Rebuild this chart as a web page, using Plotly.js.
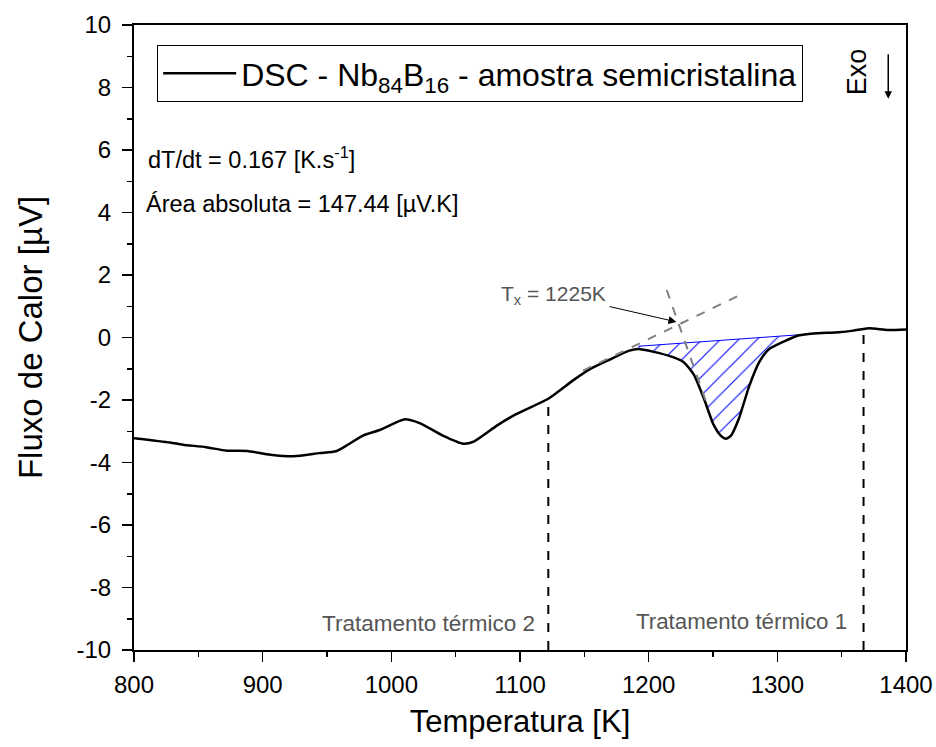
<!DOCTYPE html>
<html>
<head>
<meta charset="utf-8">
<script src="https://cdn.plot.ly/plotly-3.0.1.min.js"></script>
<style>html,body{margin:0;padding:0;background:#fff;}#chart{width:936px;height:747px;}</style>
</head>
<body>
<div id="chart"></div>
<script>
// DSC curve (Temperatura [K], Fluxo de Calor [µV])
const temp = [800, 828, 838, 856, 872, 888, 906, 924, 944, 957, 965, 978, 991, 1010, 1022, 1040, 1056, 1064, 1082, 1097, 1122, 1141, 1154, 1169, 1185, 1192, 1204, 1216, 1227, 1235, 1243, 1250, 1256, 1260, 1264, 1270, 1278, 1286, 1293, 1305, 1317, 1328, 1348, 1359, 1371, 1386, 1400];
const flux = [-3.22, -3.36, -3.43, -3.51, -3.62, -3.63, -3.75, -3.80, -3.70, -3.64, -3.46, -3.14, -2.96, -2.62, -2.74, -3.14, -3.40, -3.33, -2.82, -2.45, -1.96, -1.38, -1.02, -0.72, -0.42, -0.37, -0.46, -0.59, -0.78, -1.18, -1.96, -2.75, -3.14, -3.24, -3.14, -2.61, -1.57, -0.78, -0.39, -0.13, 0.07, 0.13, 0.17, 0.22, 0.30, 0.24, 0.26];

// Integration baseline of the crystallization peak
const baseT = [1328, 1192];
const baseF = [0.12, -0.28];

// Onset tangents
const tanAT = [1149, 1274];
const tanAF = [-1.06, 1.42];
const tanBT = [1214, 1246];
const tanBF = [1.52, -2.22];

// Heat-treatment temperatures (vertical dashed lines)
const treatT = [1122, 1367];
const treatTop = [-1.96, 0.28];
const treatLabels = ["Tratamento térmico 2", "Tratamento térmico 1"];

// Axis ticks
const xTickVals = [800, 900, 1000, 1100, 1200, 1300, 1400];
const xTickText = ["800", "900", "1000", "1100", "1200", "1300", "1400"];
const yTickVals = [-10, -8, -6, -4, -2, 0, 2, 4, 6, 8, 10];
const yTickText = ["-10", "-8", "-6", "-4", "-2", "0", "2", "4", "6", "8", "10"];

const legendName = "DSC - Nb<sub>84</sub>B<sub>16</sub> - amostra semicristalina";

// Build the hatched peak polygon from the curve and baseline
const peakT = [], peakF = [];
for (let i = 0; i < temp.length; i++) {
  if (temp[i] >= baseT[1] && temp[i] <= baseT[0]) { peakT.push(temp[i]); peakF.push(flux[i]); }
}
const polyT = peakT.concat(baseT);
const polyF = peakF.concat(baseF);

const traces = [];
traces.push({
  x: polyT, y: polyF, type: 'scatter', mode: 'lines', fill: 'toself',
  fillcolor: 'rgba(0,0,0,0)',
  fillpattern: {shape: '/', fgcolor: '#0000ff', bgcolor: 'rgba(255,255,255,0)', size: 13, solidity: 0.08},
  line: {color: '#0000ff', width: 1}, showlegend: false, hoverinfo: 'skip'
});
for (let k = 0; k < treatT.length; k++) {
  traces.push({
    x: [treatT[k], treatT[k]], y: [-10, treatTop[k]], type: 'scatter', mode: 'lines',
    line: {color: '#000', width: 2, dash: 'dash'}, showlegend: false, hoverinfo: 'skip'
  });
}
traces.push({
  x: temp, y: flux, type: 'scatter', mode: 'lines', name: legendName,
  line: {color: '#000', width: 2.5, shape: 'spline', smoothing: 0.6}
});
traces.push({
  x: tanAT, y: tanAF, type: 'scatter', mode: 'lines',
  line: {color: '#808080', width: 2, dash: 'dash'}, showlegend: false, hoverinfo: 'skip'
});
traces.push({
  x: tanBT, y: tanBF, type: 'scatter', mode: 'lines',
  line: {color: '#808080', width: 2, dash: 'dash'}, showlegend: false, hoverinfo: 'skip'
});

const FONT = 'Arial, "Liberation Sans", sans-serif';

const annotations = [
  {xref: 'paper', yref: 'paper', x: 0.015, y: 0.787, xanchor: 'left', yanchor: 'middle', showarrow: false,
   text: 'dT/dt = 0.167 [K.s<sup>-1</sup>]', font: {size: 23.5, color: '#000', family: FONT}},
  {xref: 'paper', yref: 'paper', x: 0.013, y: 0.713, xanchor: 'left', yanchor: 'middle', showarrow: false,
   text: 'Área absoluta = 147.44 [µV.K]', font: {size: 23.5, color: '#000', family: FONT}},
  {xref: 'paper', yref: 'paper', x: 0.937, y: 0.925, xanchor: 'center', yanchor: 'middle', showarrow: false,
   text: 'Exo', textangle: -90, font: {size: 27, color: '#000', family: FONT}},
  {xref: 'paper', yref: 'paper', x: 0.977, y: 0.882, showarrow: true, ax: 0, ay: -46, text: '',
   arrowhead: 2, arrowsize: 1, arrowwidth: 1.5, arrowcolor: '#000'},
  {x: 1221.6, y: 0.5, xref: 'x', yref: 'y', axref: 'x', ayref: 'y', ax: 1168.5, ay: 1.0, text: '',
   showarrow: true, arrowhead: 2, arrowsize: 1.6, arrowwidth: 1, arrowcolor: '#000'},
  {x: 1126, y: 1.36, xref: 'x', yref: 'y', showarrow: false, xanchor: 'center', yanchor: 'middle',
   text: 'T<sub>x</sub> = 1225K', font: {size: 21, color: '#555', family: FONT}},
  {x: 1113, y: -9.15, xref: 'x', yref: 'y', showarrow: false, xanchor: 'right', yanchor: 'middle',
   text: treatLabels[0], font: {size: 22.5, color: '#555', family: FONT}},
  {x: 1356, y: -9.1, xref: 'x', yref: 'y', showarrow: false, xanchor: 'right', yanchor: 'middle',
   text: treatLabels[1], font: {size: 22.3, color: '#555', family: FONT}}
];

const layout = {
  width: 936, height: 747,
  margin: {l: 134, r: 30, t: 25, b: 97},
  paper_bgcolor: '#fff', plot_bgcolor: '#fff',
  font: {family: FONT, color: '#000'},
  showlegend: true,
  legend: {x: 0.03, y: 0.968, xanchor: 'left', yanchor: 'top', bgcolor: '#fff',
           bordercolor: '#000', borderwidth: 1, itemwidth: 73,
           font: {size: 32, family: FONT, color: '#000'}},
  xaxis: {
    range: [800, 1400], tickmode: 'array', tickvals: xTickVals, ticktext: xTickText,
    ticks: 'outside', ticklen: 10, tickwidth: 1.5, tickcolor: '#000', ticklabelstandoff: 2,
    minor: {tickmode: 'linear', tick0: 800, dtick: 50, ticks: 'outside', ticklen: 5, tickwidth: 1.5, tickcolor: '#000'},
    showline: true, linecolor: '#000', linewidth: 2, mirror: true,
    showgrid: false, zeroline: false, automargin: false,
    tickfont: {size: 24, family: FONT},
    title: {text: 'Temperatura [K]', font: {size: 31, family: FONT}, standoff: 14}
  },
  yaxis: {
    range: [-10, 10], tickmode: 'array', tickvals: yTickVals, ticktext: yTickText,
    ticks: 'outside', ticklen: 10, tickwidth: 1.5, tickcolor: '#000', ticklabelstandoff: 6,
    minor: {tickmode: 'linear', tick0: -10, dtick: 1, ticks: 'outside', ticklen: 5, tickwidth: 1.5, tickcolor: '#000'},
    showline: true, linecolor: '#000', linewidth: 2, mirror: true,
    showgrid: false, zeroline: false, automargin: false,
    tickfont: {size: 24, family: FONT},
    title: {text: 'Fluxo de Calor [µV]', font: {size: 33, family: FONT}, standoff: 24}
  },
  annotations: annotations
};

Plotly.newPlot('chart', traces, layout, {displayModeBar: false, staticPlot: true});
</script>
</body>
</html>
